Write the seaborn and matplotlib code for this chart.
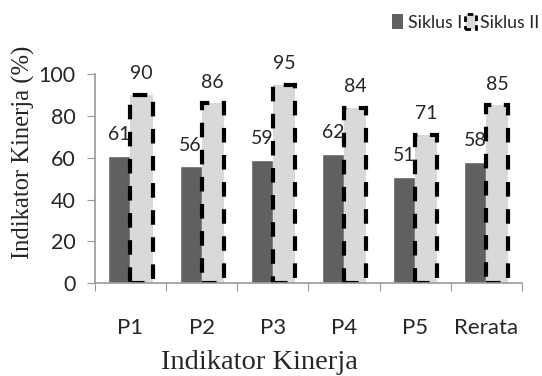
import numpy as np
import pandas as pd
import matplotlib
matplotlib.use('Agg')
import matplotlib.pyplot as plt
from matplotlib.patches import Patch
import seaborn as sns

categories = ['P1', 'P2', 'P3', 'P4', 'P5', 'Rerata']
siklus1 = [61, 56, 59, 62, 51, 58]
siklus2 = [90, 86, 95, 84, 71, 85]

df = pd.DataFrame({
    'Indikator': categories * 2,
    'Nilai': siklus1 + siklus2,
    'Siklus': ['Siklus I'] * len(categories) + ['Siklus II'] * len(categories),
})

sns.set_style('white')
plt.rcParams['font.family'] = ['Lato', 'DejaVu Sans']

fig = plt.figure(figsize=(5.42, 3.76), dpi=100)
ax = fig.add_axes([0.175, 0.247, 0.788, 0.556])

sns.barplot(data=df, x='Indikator', y='Nilai', hue='Siklus',
            palette=['#606060', '#d9d9d9'], width=0.62, gap=0,
            saturation=1, legend=False, ax=ax)

c1, c2 = ax.containers[0], ax.containers[1]
for p in c2:
    p.set_edgecolor('black')
    p.set_linestyle((0, (3.5, 3)))
    p.set_linewidth(3)

ax.bar_label(c1, labels=[str(v) for v in siklus1], padding=9, fontsize=14)
ax.bar_label(c2, labels=[str(v) for v in siklus2], padding=9, fontsize=14)

ax.set_ylim(0, 100)
ax.set_xlim(-0.5, len(categories) - 0.5)
ax.set_yticks(range(0, 101, 20))
ax.set_xticks(np.arange(-0.5, len(categories), 1.0))
ax.set_xticklabels([])
ax.set_xticks(range(len(categories)), minor=True)
ax.set_xticklabels(categories, minor=True)
ax.tick_params(axis='x', which='major', length=6, color='#999999', direction='out', bottom=True)
ax.tick_params(axis='x', which='minor', length=0, pad=25, labelsize=16)
ax.tick_params(axis='y', length=6, color='#999999', direction='out', left=True, labelsize=15.5, pad=8)

for s in ['top', 'right']:
    ax.spines[s].set_visible(False)
for s in ['left', 'bottom']:
    ax.spines[s].set_color('#999999')
    ax.spines[s].set_linewidth(1.2)

ax.set_xlabel('Indikator Kinerja', family='Liberation Serif', fontsize=20.5)
ax.set_ylabel('Indikator Kinerja (%)', family='Liberation Serif', fontsize=17.7)
ax.xaxis.set_label_coords(0.386, -0.32)
ax.yaxis.set_label_coords(-0.14, 0.627)

handles = [Patch(facecolor='#606060', edgecolor='none'),
           Patch(facecolor='#d9d9d9', edgecolor='black', linestyle=(0, (2, 1.5)), linewidth=2)]
fig.legend(handles, ['Siklus I', 'Siklus II'], loc='center left', bbox_to_anchor=(0.724, 0.94),
           ncol=2, frameon=False, fontsize=12.8, handlelength=0.6, handleheight=0.9,
           handletextpad=0.25, columnspacing=0.2, borderpad=0, borderaxespad=0)

fig.savefig('out.png', dpi=100)
